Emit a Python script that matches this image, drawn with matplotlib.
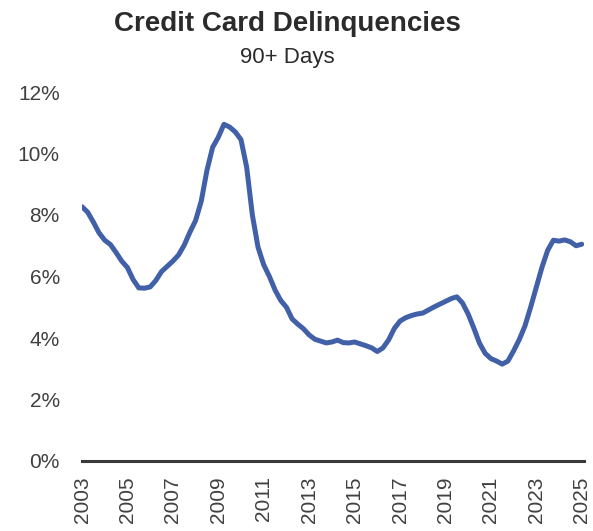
import numpy as np
import matplotlib
matplotlib.use("Agg")
import matplotlib.pyplot as plt

plt.rcParams['font.family'] = ['Liberation Sans', 'DejaVu Sans']

# Quarterly, 2003 Q1 .. 2025 Q1
years = np.arange(2003, 2025.01, 0.25)
delinquency_pct = [
    8.27, 8.09, 7.77, 7.42,
    7.18, 7.04, 6.78, 6.50,
    6.29, 5.90, 5.63, 5.62,
    5.66, 5.87, 6.16, 6.33,
    6.50, 6.70, 7.02, 7.44,
    7.82, 8.45, 9.45, 10.20,
    10.53, 10.95, 10.86, 10.70,
    10.45, 9.55, 8.00, 6.95,
    6.38, 6.00, 5.56, 5.22,
    5.00, 4.62, 4.45, 4.30,
    4.10, 3.96, 3.90, 3.84,
    3.87, 3.93, 3.85, 3.84,
    3.87, 3.81, 3.75, 3.68,
    3.56, 3.68, 3.94, 4.31,
    4.55, 4.66, 4.73, 4.78,
    4.81, 4.91, 5.01, 5.10,
    5.19, 5.28, 5.34, 5.14,
    4.78, 4.32, 3.83, 3.50,
    3.33, 3.25, 3.15, 3.25,
    3.58, 3.95, 4.39, 5.00,
    5.65, 6.30, 6.85, 7.18,
    7.15, 7.19, 7.13, 7.00,
    7.05,
]
xtick_years = list(range(2003, 2026, 2))
ytick_vals = [0, 2, 4, 6, 8, 10, 12]

title = "Credit Card Delinquencies"
subtitle = "90+ Days"

fig = plt.figure(figsize=(5.93, 5.31), dpi=100)
ax = fig.add_axes([82/593, 1 - 461/531, (584 - 82)/593, (461 - 92)/531])

ax.plot(years, delinquency_pct, color='#4160a8', lw=3.6, solid_capstyle='round',
        solid_joinstyle='round', zorder=3)

ax.set_xlim(2003, 2025.1)
ax.set_ylim(0, 12)
ax.set_yticks(ytick_vals)
ax.set_yticklabels([f"{v}%" for v in ytick_vals])
ax.set_xticks(xtick_years)
ax.set_xticklabels([str(y) for y in xtick_years], rotation=90)

for s in ['top', 'right', 'left']:
    ax.spines[s].set_visible(False)
ax.spines['bottom'].set_color('#3a3a3a')
ax.spines['bottom'].set_linewidth(2.2)
ax.spines['bottom'].set_zorder(4)

ax.tick_params(axis='y', length=0, pad=16, labelsize=15, labelcolor='#404040')
ax.tick_params(axis='x', length=0, pad=11, labelsize=15, labelcolor='#404040')

fig.text(287/593, 1 - 24/531, title, ha='center', va='center', fontsize=20,
         fontweight='bold', color='#2b2b2b')
fig.text(287/593, 1 - 57/531, subtitle, ha='center', va='center', fontsize=16,
         color='#2b2b2b')

fig.savefig("out.png", dpi=100)
